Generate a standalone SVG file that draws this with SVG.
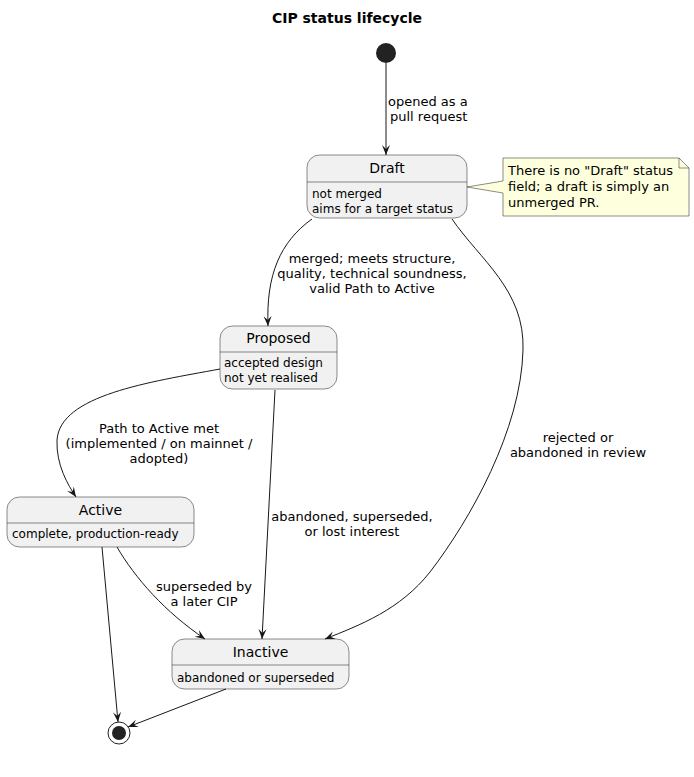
<svg xmlns="http://www.w3.org/2000/svg" width="694" height="777" viewBox="0 0 694 777">
<defs>
<marker id="arr" markerUnits="userSpaceOnUse" markerWidth="12" markerHeight="10" refX="10" refY="4" orient="auto">
<path d="M0,0 L10,4 L0,8 L4,4 Z" fill="#181818"/>
</marker>
</defs>
<style>
text{font-family:"DejaVu Sans",Verdana,sans-serif;fill:#000}
.title{font-size:14px;font-weight:bold}
.st{font-size:14px}
.body{font-size:12px}
.lbl{font-size:13px}
.box{fill:#F1F1F1;stroke:#181818;stroke-width:0.5}
.div{stroke:#181818;stroke-width:0.5}
.edge{fill:none;stroke:#181818;stroke-width:1;marker-end:url(#arr)}
.note{fill:#FEFFDD;stroke:#181818;stroke-width:0.5}
</style>
<rect width="694" height="777" fill="#FFFFFF"/>
<text class="title" x="347" y="23" text-anchor="middle">CIP status lifecycle</text>

<g id="start"><circle cx="386" cy="53" r="10" fill="#222222"/></g>

<g id="draft">
<rect class="box" x="307" y="155" width="160" height="63" rx="12.5" ry="12.5"/>
<line class="div" x1="307" y1="182" x2="467" y2="182"/>
<text class="st" x="387" y="173" text-anchor="middle">Draft</text>
<text class="body" x="312" y="198">not merged</text>
<text class="body" x="312" y="213">aims for a target status</text>
</g>

<g id="note">
<path class="note" d="M503,158 L679,158 L689,168 L689,216 L503,216 L503,193 L467,187 L503,181 Z"/>
<path d="M679,158 L679,168 L689,168" fill="none" stroke="#181818" stroke-width="0.5"/>
<text class="lbl" x="508" y="175">There is no "Draft" status</text>
<text class="lbl" x="508" y="191">field; a draft is simply an</text>
<text class="lbl" x="508" y="207">unmerged PR.</text>
</g>

<g id="proposed">
<rect class="box" x="220" y="326" width="117" height="63" rx="12.5" ry="12.5"/>
<line class="div" x1="220" y1="352" x2="337" y2="352"/>
<text class="st" x="278.5" y="343" text-anchor="middle">Proposed</text>
<text class="body" x="224" y="367">accepted design</text>
<text class="body" x="224" y="382">not yet realised</text>
</g>

<g id="active">
<rect class="box" x="7" y="497" width="187" height="50" rx="12.5" ry="12.5"/>
<line class="div" x1="7" y1="523" x2="194" y2="523"/>
<text class="st" x="100.5" y="515" text-anchor="middle">Active</text>
<text class="body" x="12" y="538">complete, production-ready</text>
</g>

<g id="inactive">
<rect class="box" x="172" y="639" width="177" height="50" rx="12.5" ry="12.5"/>
<line class="div" x1="172" y1="665" x2="349" y2="665"/>
<text class="st" x="260.5" y="657" text-anchor="middle">Inactive</text>
<text class="body" x="177" y="682">abandoned or superseded</text>
</g>

<g id="end">
<circle cx="119" cy="733" r="11" fill="none" stroke="#222222" stroke-width="1"/>
<circle cx="119" cy="733" r="7" fill="#222222"/>
</g>

<g id="connectors">
<path class="edge" d="M386,63 L386,155"/>
<text class="lbl" x="388" y="106">opened as a</text>
<text class="lbl" x="390" y="121">pull request</text>

<path class="edge" d="M312,219 C280,242 266,275 268,326"/>
<text class="lbl" x="372" y="263" text-anchor="middle">merged; meets structure,</text>
<text class="lbl" x="372" y="278" text-anchor="middle">quality, technical soundness,</text>
<text class="lbl" x="372" y="293" text-anchor="middle">valid Path to Active</text>

<path class="edge" d="M452,219 C480,260 525,290 523,350 C521,430 470,520 430,572 C400,610 360,625 325,639"/>
<text class="lbl" x="578" y="442" text-anchor="middle">rejected or</text>
<text class="lbl" x="578" y="457" text-anchor="middle">abandoned in review</text>

<path class="edge" d="M220,369 C150,382 60,395 57,440 C56,465 68,485 76,497"/>
<text class="lbl" x="159" y="433" text-anchor="middle">Path to Active met</text>
<text class="lbl" x="159" y="448" text-anchor="middle">(implemented / on mainnet /</text>
<text class="lbl" x="159" y="463" text-anchor="middle">adopted)</text>

<path class="edge" d="M275,390 L262,639"/>
<text class="lbl" x="352" y="521" text-anchor="middle">abandoned, superseded,</text>
<text class="lbl" x="352" y="536" text-anchor="middle">or lost interest</text>

<path class="edge" d="M117,547 C135,578 165,612 205,639"/>
<text class="lbl" x="204" y="591" text-anchor="middle">superseded by</text>
<text class="lbl" x="204" y="606" text-anchor="middle">a later CIP</text>

<path class="edge" d="M102,547 L118,722"/>
<path class="edge" d="M226,689 L128,727"/>
</g>
</svg>
